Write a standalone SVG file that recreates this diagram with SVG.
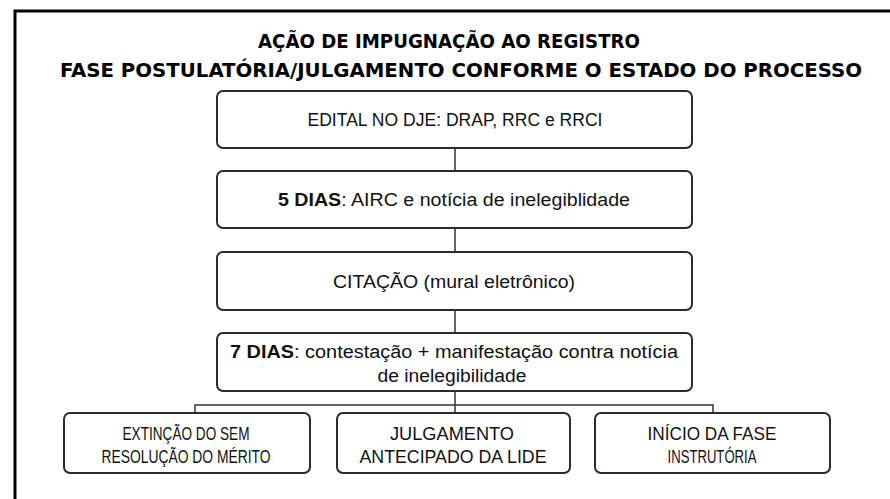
<svg xmlns="http://www.w3.org/2000/svg" width="890" height="499" viewBox="0 0 890 499">
<style>
.frame{fill:none;stroke:#000;stroke-width:3}
.box{fill:#fff;stroke:#2b2b2b;stroke-width:2}
.conn{fill:none;stroke:#333;stroke-width:1.5}
.title{font-family:"DejaVu Sans Condensed","DejaVu Sans",sans-serif;font-weight:bold;font-size:19px;fill:#000;text-anchor:middle}
.t{font-family:"Liberation Sans",Arial,sans-serif;font-size:18px;fill:#111;text-anchor:middle}
.b{font-weight:bold}
</style>
<rect width="890" height="499" fill="#fff"/>
<path class="frame" d="M15,499 V11 H890"/>
<g id="title">
<text class="title" x="449" y="48" textLength="382" lengthAdjust="spacingAndGlyphs">AÇÃO DE IMPUGNAÇÃO AO REGISTRO</text>
<text class="title" x="461" y="77" textLength="802" lengthAdjust="spacingAndGlyphs">FASE POSTULATÓRIA/JULGAMENTO CONFORME O ESTADO DO PROCESSO</text>
</g>
<g id="connectors">
<path class="conn" d="M455,148 V171 M455,228 V252 M455,310 V333 M455,391 V405 M195,413 V405 H713 V413 M455,405 V413"/>
</g>
<g id="edital">
<rect class="box" x="217" y="91" width="475" height="57" rx="6"/>
<text class="t" x="455" y="126" textLength="295" lengthAdjust="spacingAndGlyphs">EDITAL NO DJE: DRAP, RRC e RRCI</text>
</g>
<g id="cinco-dias">
<rect class="box" x="217" y="171" width="475" height="57" rx="6"/>
<text class="t" x="454" y="206" textLength="352" lengthAdjust="spacingAndGlyphs"><tspan class="b">5 DIAS</tspan>: AIRC e notícia de inelegiblidade</text>
</g>
<g id="citacao">
<rect class="box" x="217" y="252" width="475" height="58" rx="6"/>
<text class="t" x="454" y="288" textLength="242" lengthAdjust="spacingAndGlyphs">CITAÇÃO (mural eletrônico)</text>
</g>
<g id="sete-dias">
<rect class="box" x="217" y="333" width="475" height="58" rx="6"/>
<text class="t" x="454" y="358" textLength="448" lengthAdjust="spacingAndGlyphs"><tspan class="b">7 DIAS</tspan>: contestação + manifestação contra notícia</text>
<text class="t" x="452" y="382" textLength="149" lengthAdjust="spacingAndGlyphs">de inelegibilidade</text>
</g>
<g id="extincao">
<rect class="box" x="64" y="413" width="246" height="60" rx="6"/>
<text class="t" x="186" y="440" textLength="127" lengthAdjust="spacingAndGlyphs">EXTINÇÃO DO SEM</text>
<text class="t" x="186" y="463" textLength="169" lengthAdjust="spacingAndGlyphs">RESOLUÇÃO DO MÉRITO</text>
</g>
<g id="julgamento">
<rect class="box" x="337" y="413" width="233" height="60" rx="6"/>
<text class="t" x="452" y="440" textLength="124" lengthAdjust="spacingAndGlyphs">JULGAMENTO</text>
<text class="t" x="453" y="463" textLength="187" lengthAdjust="spacingAndGlyphs">ANTECIPADO DA LIDE</text>
</g>
<g id="inicio">
<rect class="box" x="595" y="413" width="235" height="60" rx="6"/>
<text class="t" x="712" y="440" textLength="129" lengthAdjust="spacingAndGlyphs">INÍCIO DA FASE</text>
<text class="t" x="712" y="463" textLength="89" lengthAdjust="spacingAndGlyphs">INSTRUTÓRIA</text>
</g>
</svg>
